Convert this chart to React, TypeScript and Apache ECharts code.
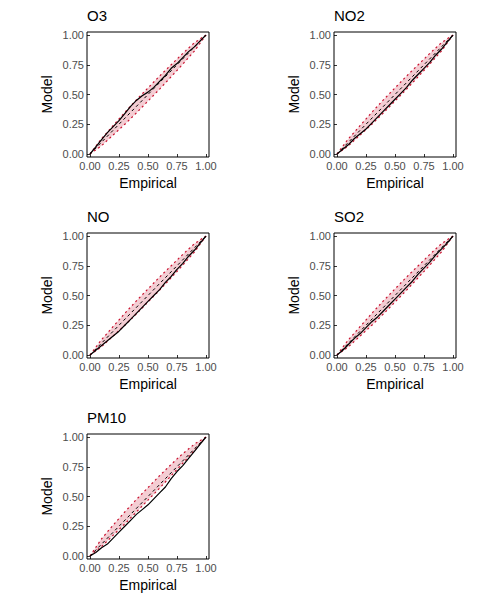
import * as echarts from "echarts";
import { useEffect, useRef } from "react";

const panelNames = ["O3", "NO2", "NO", "SO2", "PM10"];
const gridX = [0, 0.1, 0.2, 0.3, 0.4, 0.5, 0.6, 0.7, 0.8, 0.9, 1];
const modelX = [0, 0.05, 0.1, 0.15, 0.2, 0.25, 0.3, 0.35, 0.4, 0.45, 0.5, 0.55, 0.6, 0.65, 0.7, 0.75, 0.8, 0.85, 0.9, 0.95, 1];

const lowerBands = [
  [0, 0.07, 0.16, 0.25, 0.345, 0.445, 0.545, 0.65, 0.755, 0.865, 1],
  [0, 0.07, 0.16, 0.25, 0.345, 0.445, 0.545, 0.65, 0.755, 0.865, 1],
  [0, 0.07, 0.16, 0.25, 0.345, 0.445, 0.545, 0.65, 0.755, 0.865, 1],
  [0, 0.07, 0.16, 0.25, 0.345, 0.445, 0.545, 0.65, 0.755, 0.865, 1],
  [0, 0.08, 0.175, 0.27, 0.37, 0.47, 0.57, 0.675, 0.78, 0.885, 1],
];
const upperBands = [
  [0, 0.13, 0.24, 0.35, 0.455, 0.555, 0.655, 0.75, 0.845, 0.935, 1],
  [0, 0.13, 0.24, 0.35, 0.455, 0.555, 0.655, 0.75, 0.845, 0.935, 1],
  [0, 0.13, 0.24, 0.35, 0.455, 0.555, 0.655, 0.75, 0.845, 0.935, 1],
  [0, 0.13, 0.24, 0.35, 0.455, 0.555, 0.655, 0.75, 0.845, 0.935, 1],
  [0, 0.145, 0.26, 0.37, 0.475, 0.575, 0.675, 0.77, 0.86, 0.94, 1],
];
const modelValues = [
  [0, 0.06, 0.12, 0.18, 0.23, 0.28, 0.34, 0.4, 0.45, 0.49, 0.52, 0.56, 0.61, 0.66, 0.72, 0.76, 0.81, 0.86, 0.9, 0.95, 1],
  [0, 0.04, 0.08, 0.13, 0.17, 0.21, 0.26, 0.31, 0.36, 0.41, 0.46, 0.51, 0.56, 0.62, 0.67, 0.72, 0.77, 0.83, 0.88, 0.94, 1],
  [0, 0.04, 0.08, 0.12, 0.16, 0.2, 0.25, 0.3, 0.35, 0.4, 0.45, 0.5, 0.55, 0.61, 0.66, 0.72, 0.77, 0.83, 0.88, 0.94, 1],
  [0, 0.04, 0.09, 0.14, 0.18, 0.23, 0.28, 0.32, 0.37, 0.42, 0.47, 0.52, 0.57, 0.62, 0.68, 0.73, 0.78, 0.84, 0.89, 0.94, 1],
  [0, 0.03, 0.07, 0.1, 0.15, 0.2, 0.25, 0.3, 0.35, 0.39, 0.43, 0.48, 0.53, 0.58, 0.65, 0.71, 0.76, 0.82, 0.88, 0.94, 1],
];
const tickLabels = ["0.00", "0.25", "0.50", "0.75", "1.00"];

const panelLeft = [87, 334, 87, 334, 87];
const panelTop = [32, 32, 233, 233, 434];
const panelW = 122;
const panelH = 125;
const pad = 3;

function buildOption(): echarts.EChartsOption {
  const grids: any[] = [];
  const xAxes: any[] = [];
  const yAxes: any[] = [];
  const series: any[] = [];
  const graphics: any[] = [];
  const axisLabel = {
    color: "#4d4d4d",
    fontSize: 11,
    fontFamily: "Arial, Liberation Sans",
    margin: 6,
    formatter: (v: number) => tickLabels[Math.round(v * 4)],
  };
  panelNames.forEach((name, i) => {
    const l = panelLeft[i];
    const t = panelTop[i];
    grids.push({ left: l + pad, top: t + pad, width: panelW - 2 * pad, height: panelH - 2 * pad });
    const base = {
      gridIndex: i,
      type: "value",
      min: 0,
      max: 1,
      interval: 0.25,
      splitLine: { show: false },
      axisLine: { show: false },
      axisTick: { show: true, length: 3, lineStyle: { color: "#333" } },
      axisLabel,
      nameLocation: "middle",
      nameTextStyle: { color: "#000", fontSize: 14, fontFamily: "Arial, Liberation Sans" },
    };
    xAxes.push({ ...base, name: "Empirical", nameGap: 22 });
    yAxes.push({ ...base, name: "Model", nameGap: 36 });
    const common = { type: "line", xAxisIndex: i, yAxisIndex: i, showSymbol: false, silent: true };
    // pink area under the upper bound, then white area under the lower bound covers the rest
    series.push({
      ...common,
      z: 1,
      data: gridX.map((x, k) => [x, upperBands[i][k]]),
      lineStyle: { width: 0 },
      areaStyle: { color: "#f4cdd3", opacity: 1 },
    });
    series.push({
      ...common,
      z: 2,
      data: gridX.map((x, k) => [x, lowerBands[i][k]]),
      lineStyle: { width: 0 },
      areaStyle: { color: "#ffffff", opacity: 1 },
    });
    series.push({
      ...common,
      z: 3,
      data: gridX.map((x, k) => [x, upperBands[i][k]]),
      lineStyle: { color: "#c8102e", width: 1.2, type: [2, 3] },
    });
    series.push({
      ...common,
      z: 3,
      data: gridX.map((x, k) => [x, lowerBands[i][k]]),
      lineStyle: { color: "#c8102e", width: 1.2, type: [2, 3] },
    });
    series.push({
      ...common,
      z: 4,
      data: [[0, 0], [1, 1]],
      lineStyle: { color: "#000", width: 1, type: [3, 3] },
    });
    series.push({
      ...common,
      z: 5,
      data: modelX.map((x, k) => [x, modelValues[i][k]]),
      lineStyle: { color: "#000", width: 1.2 },
    });
    graphics.push({
      type: "rect",
      shape: { x: l, y: t, width: panelW, height: panelH },
      style: { fill: "none", stroke: "#000", lineWidth: 1 },
      z: 100,
    });
    graphics.push({
      type: "text",
      x: l,
      y: t - 24,
      style: { text: name, fill: "#000", fontSize: 15, fontFamily: "Arial, Liberation Sans" },
    });
  });
  return { animation: false, grid: grids, xAxis: xAxes, yAxis: yAxes, series, graphic: graphics };
}

export default function App() {
  const ref = useRef<HTMLDivElement | null>(null);
  useEffect(() => {
    if (!ref.current) return;
    const chart = echarts.init(ref.current, undefined, { renderer: "svg" });
    chart.setOption(buildOption());
    return () => chart.dispose();
  }, []);
  return <div ref={ref} style={{ position: "fixed", left: 0, top: 0, width: 494, height: 604, background: "#fff" }} />;
}
